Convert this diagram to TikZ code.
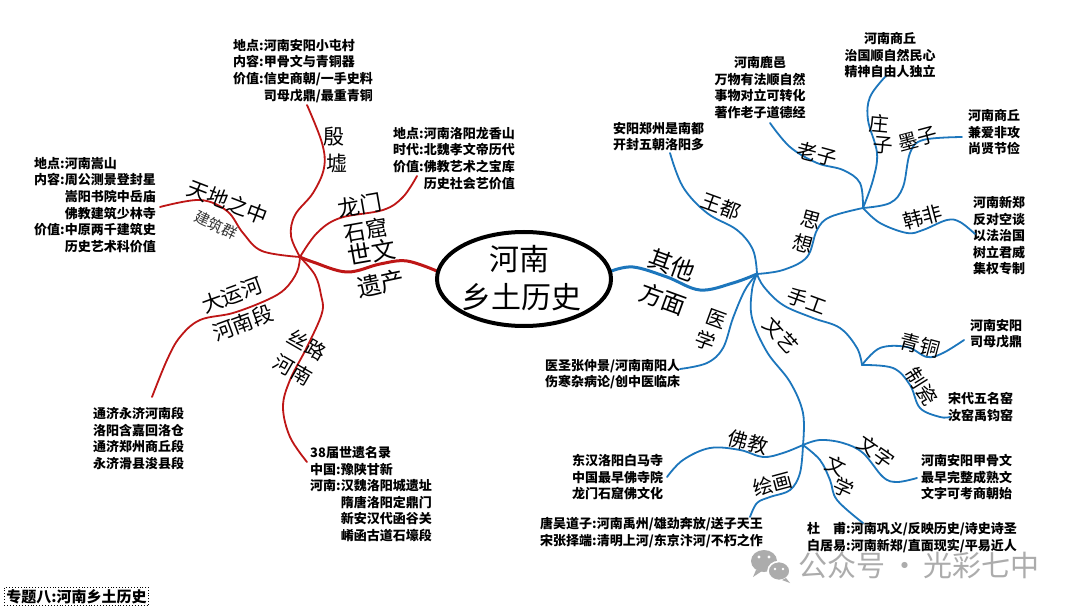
\documentclass[tikz,border=0pt]{standalone}
\usepackage{fontspec}
\setmainfont{Noto Sans CJK SC}
\usetikzlibrary{shapes.geometric}
\definecolor{hred}{RGB}{190,22,22}
\definecolor{hblue}{RGB}{28,118,188}
\definecolor{wm}{RGB}{172,172,172}
\begin{document}
\begin{tikzpicture}[x=1pt,y=-1pt,
  info/.style={font=\bfseries\fontsize{13}{16.6}\selectfont, align=left, anchor=north west, inner sep=0pt},
  infoc/.style={info, align=center, anchor=north},
  lbl/.style={font=\fontsize{20}{20}\selectfont, inner sep=0pt},
  rlbl/.style={font=\fontsize{21}{21}\selectfont, inner sep=0pt},
  biglbl/.style={font=\fontsize{24}{24}\selectfont, inner sep=0pt},
  rbr/.style={draw=hred, line width=1.8pt, line cap=round, line join=round},
  bbr/.style={draw=hblue, line width=1.8pt, line cap=round, line join=round},
  mainr/.style={rbr, line width=3pt},
  mainb/.style={bbr, line width=3pt}
]
\useasboundingbox (0,0) rectangle (1080,607);
\fill[white] (0,0) rectangle (1080,607);

% ---------- centre ----------
\node[ellipse, minimum width=174pt, minimum height=94pt, inner sep=0pt] (center) at (524,279) {};
\coordinate (hubL) at (300,257);
\coordinate (hubR) at (757,274);
\coordinate (hubS) at (863,208);
\coordinate (hubH) at (862,365);
\coordinate (hubW) at (803,445);

% ---------- info texts (red side) ----------
\node[info] (yinxu) at (233,39) {地点:河南安阳小屯村\\内容:甲骨文与青铜器\\价值:信史商朝/一手史料\\\phantom{价值:}司母戊鼎/最重青铜};
\node[info] (longmen) at (393,127) {地点:河南洛阳龙香山\\时代:北魏孝文帝历代\\价值:佛教艺术之宝库\\\phantom{价值:}历史社会艺价值};
\node[info] (tiandi) at (34,157) {地点:河南嵩山\\内容:周公测景登封星\\\phantom{内容:}嵩阳书院中岳庙\\\phantom{内容:}佛教建筑少林寺\\价值:中原两千建筑史\\\phantom{价值:}历史艺术科价值};
\node[info] (yunhe) at (93,407) {通济永济河南段\\洛阳含嘉回洛仓\\通济郑州商丘段\\永济滑县浚县段};
\node[info] (silu) at (310,446) {38届世遗名录\\中国:豫陕甘新\\河南:汉魏洛阳城遗址\\\phantom{河南:}隋唐洛阳定鼎门\\\phantom{河南:}新安汉代函谷关\\\phantom{河南:}崤函古道石壕段};

% ---------- info texts (blue side) ----------
\node[info] (wangdu) at (613,122) {安阳郑州是南都\\开封五朝洛阳多};
\node[infoc] (laozi) at (760,56) {河南鹿邑\\万物有法顺自然\\事物对立可转化\\著作老子道德经};
\node[infoc] (zhuangzi) at (890,32) {河南商丘\\治国顺自然民心\\精神自由人独立};
\node[info] (mozi) at (968,109) {河南商丘\\兼爱非攻\\尚贤节俭};
\node[info] (hanfei) at (973,196) {河南新郑\\反对空谈\\以法治国\\树立君威\\集权专制};
\node[info] (qingtong) at (970,319) {河南安阳\\司母戊鼎};
\node[info] (zhici) at (948,392) {宋代五名窑\\汝窑禹钧窑};
\node[info] (yixue) at (545,359) {医圣张仲景/河南南阳人\\伤寒杂病论/创中医临床};
\node[info] (fojiao) at (572,454) {东汉洛阳白马寺\\中国最早佛寺院\\龙门石窟佛文化};
\node[info] (huihua) at (540,517) {唐吴道子:河南禹州/雄劲奔放/送子天王\\宋张择端:清明上河/东京汴河/不朽之作};
\node[info] (wenxue) at (807,522) {杜\hspace{1em}甫:河南巩义/反映历史/诗史诗圣\\白居易:河南新郑/直面现实/平易近人};
\node[info] (wenzi) at (921,454) {河南安阳甲骨文\\最早完整成熟文\\文字可考商朝始};

% end points of branches
\coordinate (eYinxu) at (307,105);
\coordinate (eLongmen) at (417,176);
\coordinate (eTiandi) at (160,207);
\coordinate (eYunhe) at (152,397);
\coordinate (eSilu) at (307,462);
\coordinate (eWangdu) at (670,153);
\coordinate (eLaozi) at (770,123);
\coordinate (eZhuangzi) at (885,77);
\coordinate (eMozi) at (962,137);
\coordinate (eHanfei) at (975,234);
\coordinate (eQingtong) at (964,340);
\coordinate (eZhici) at (950,417);
\coordinate (eYixue) at (680,369);
\coordinate (eFojiao) at (667,477);
\coordinate (eHuihua) at (750,517);
\coordinate (eWenxue) at (863,523);
\coordinate (eWenzi) at (917,478);

% ---------- red branches ----------
\draw[mainr] plot[smooth, tension=0.6] coordinates {(hubL) (313,262) (347,272) (380,264) (407,261) (center.175)};
\draw[rbr] plot[smooth, tension=0.6] coordinates {(hubL) (291,236) (295,215) (313,193) (324,168) (322,143) (eYinxu)};
\draw[rbr] plot[smooth, tension=0.6] coordinates {(hubL) (262,251) (243,233) (227,211) (200,200) (eTiandi)};
\draw[rbr] plot[smooth, tension=0.6] coordinates {(hubL) (317,233) (340,218) (383,210) (403,197) (eLongmen)};
\draw[rbr] plot[smooth, tension=0.6] coordinates {(hubL) (297,272) (285,289) (267,300) (233,313) (200,320) (180,337) (167,360) (eYunhe)};
\draw[rbr] plot[smooth, tension=0.6] coordinates {(hubL) (315,275) (321,295) (322,313) (307,347) (290,380) (283,407) (290,437) (eSilu)};

% ---------- blue branches ----------
\draw[mainb] plot[smooth, tension=0.6] coordinates {(hubR) (733,283) (700,290) (667,277) (633,267) (center.5)};
\draw[bbr] plot[smooth, tension=0.6] coordinates {(hubR) (753,250) (737,230) (707,213) (683,187) (eWangdu)};
\draw[bbr] plot[smooth, tension=0.6] coordinates {(hubR) (783,270) (807,257) (817,230) (830,217) (hubS)};
\draw[bbr] plot[smooth, tension=0.6] coordinates {(hubS) (860,183) (843,170) (817,163) (790,147) (eLaozi)};
\draw[bbr] plot[smooth, tension=0.6] coordinates {(hubS) (873,180) (877,153) (868,120) (870,97) (eZhuangzi)};
\draw[bbr] plot[smooth, tension=0.6] coordinates {(hubS) (890,203) (903,187) (910,153) (923,140) (eMozi)};
\draw[bbr] plot[smooth, tension=0.6] coordinates {(hubS) (880,223) (907,233) (923,230) (947,220) (960,222) (eHanfei)};
\draw[bbr] plot[smooth, tension=0.6] coordinates {(hubR) (764,287) (783,305) (813,318) (840,328) (857,348) (hubH)};
\draw[bbr] plot[smooth, tension=0.6] coordinates {(hubH) (880,348) (907,347) (927,357) (943,353) (eQingtong)};
\draw[bbr] plot[smooth, tension=0.6] coordinates {(hubH) (893,368) (910,385) (920,408) (940,417) (eZhici)};
\draw[bbr] plot[smooth, tension=0.6] coordinates {(hubR) (745,290) (733,318) (723,348) (707,363) (eYixue)};
\draw[bbr] plot[smooth, tension=0.6] coordinates {(hubR) (752,290) (752,318) (767,352) (790,382) (803,413) (hubW)};
\draw[bbr] plot[smooth, tension=0.6] coordinates {(hubW) (783,453) (763,457) (740,450) (710,448) (683,460) (eFojiao)};
\draw[bbr] plot[smooth, tension=0.6] coordinates {(hubW) (800,473) (790,490) (770,497) (757,503) (eHuihua)};
\draw[bbr] plot[smooth, tension=0.6] coordinates {(hubW) (820,460) (830,480) (837,500) (eWenxue)};
\draw[bbr] plot[smooth, tension=0.6] coordinates {(hubW) (820,440) (843,443) (863,453) (883,477) (897,482) (eWenzi)};

% ---------- central ellipse ----------
\draw[line width=4pt] (center.center) ellipse [x radius=87, y radius=47];
\node[font=\fontsize{30}{30}\selectfont, inner sep=0pt] (t1) at (519,259) {河南};
\node[font=\fontsize{30}{30}\selectfont, inner sep=0pt] (t2) at (521,297) {乡土历史};

% ---------- red labels ----------
\node[rlbl] (lYin) at (334,137) {殷};
\node[rlbl] (lXu) at (337,163) {墟};
\node[rlbl, rotate=-21] (lTiandi) at (228,202) {天地之中};
\node[font=\fontsize{15}{15}\selectfont, inner sep=0pt, rotate=-25, text=black!80] (lJianzhu) at (216,225) {建筑群};
\node[font=\fontsize{22}{22}\selectfont, inner sep=0pt, rotate=10] (lLongmen) at (360,205) {龙门};
\node[font=\fontsize{22}{22}\selectfont, inner sep=0pt, rotate=10] (lShiku) at (366,230) {石窟};
\node[biglbl, rotate=10] (lShiwen) at (372,252) {世文};
\node[biglbl, rotate=12] (lYichan) at (381,284) {遗产};
\node[rlbl, rotate=20] (lDayun) at (232,295) {大运河};
\node[rlbl, rotate=20] (lHenanduan) at (243,323) {河南段};
\node[lbl, rotate=-30] (lSilu) at (307,345) {丝路};
\node[lbl, rotate=-30] (lSiluHn) at (293,370) {河南};

% ---------- blue labels ----------
\node[biglbl, rotate=-20] (lQita) at (672,265) {其他};
\node[biglbl, rotate=-20] (lFangmian) at (663,299) {方面};
\node[lbl, rotate=-20] (lWangdu) at (721,206) {王都};
\node[lbl, rotate=-15] (lSi) at (811,220) {思};
\node[lbl, rotate=-15] (lXiang) at (803,244) {想};
\node[lbl, rotate=-15] (lLaozi) at (817,154) {老子};
\node[lbl, rotate=-5] (lZhuang) at (879,124) {庄};
\node[lbl, rotate=-5] (lZi) at (883,145) {子};
\node[lbl, rotate=15] (lMozi) at (918,139) {墨子};
\node[lbl, rotate=15] (lHanfei) at (923,217) {韩非};
\node[lbl, rotate=-20] (lShougong) at (807,301) {手工};
\node[lbl, rotate=-15] (lQingtong) at (920,345) {青铜};
\node[lbl, rotate=-58] (lZhici) at (922,386) {制瓷};
\node[lbl, rotate=-20] (lYi) at (716,319) {医};
\node[lbl, rotate=-20] (lXue) at (706,341) {学};
\node[lbl, rotate=-48] (lWenyi) at (781,335) {文艺};
\node[lbl, rotate=-15] (lFojiao) at (748,442) {佛教};
\node[lbl, rotate=15] (lHuihua) at (773,484) {绘画};
\node[lbl, rotate=-25] (lWen) at (836,466) {文};
\node[lbl, rotate=-25] (lXue2) at (844,488) {学};
\node[lbl, rotate=-35] (lWenzi) at (876,452) {文字};

% ---------- watermark ----------
\fill[wm] (764,561) ellipse [x radius=13, y radius=11];
\fill[wm] (756,570) -- (753,577) -- (762,571) -- cycle;
\draw[white, line width=1.6pt, fill=wm] (779,571) ellipse [x radius=11, y radius=9.5];
\fill[wm] (786,578) -- (790,583) -- (782,580) -- cycle;
\fill[white] (759,557) circle (1.6) (769,557) circle (1.6) (775,569) circle (1.3) (783,569) circle (1.3);
\node[font=\fontsize{29}{29}\selectfont, text=wm, inner sep=0pt, anchor=west] (wmtext) at (798,565) {公众号\,·\,光彩七中};

% ---------- topic box ----------
\node[draw, dotted, line width=0.9pt, font=\bfseries\fontsize{15}{15}\selectfont, inner sep=2pt, anchor=west] (topic) at (4,596.5) {专题八:河南乡土历史};
\end{tikzpicture}
\end{document}
